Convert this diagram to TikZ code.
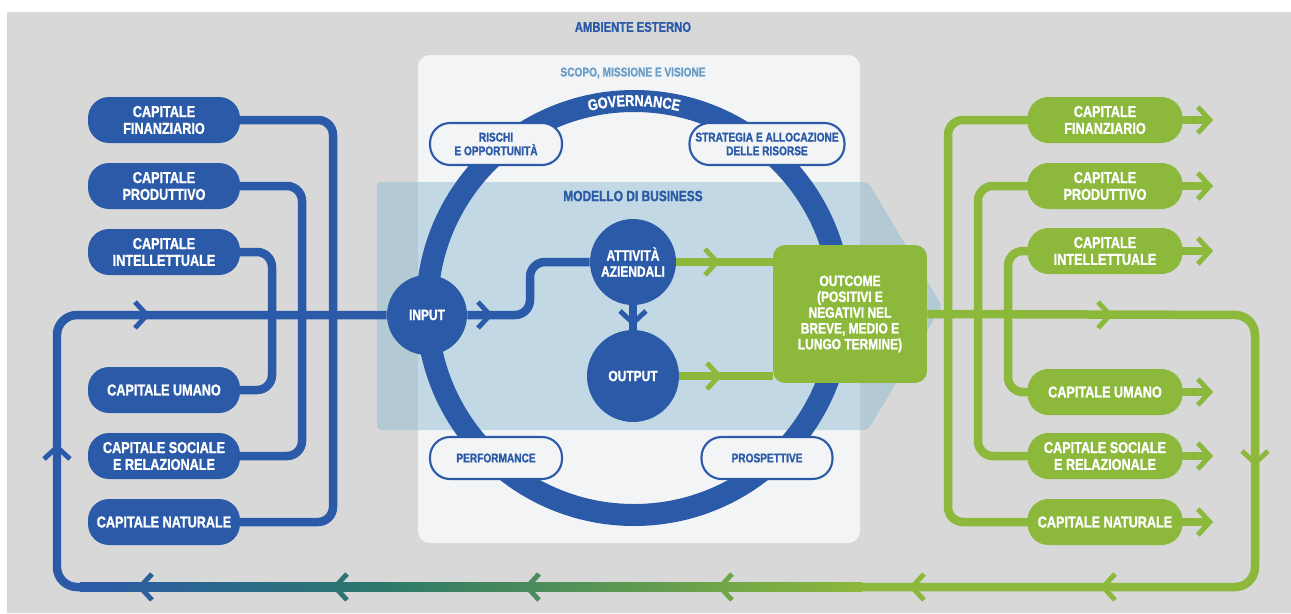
\documentclass[tikz,border=0pt]{standalone}
\usepackage{fontspec}
\setmainfont{Liberation Sans}[FakeStretch=0.8, BoldFeatures={FakeBold=1.2}]
\usetikzlibrary{decorations.text}
\definecolor{irblue}{RGB}{42,90,168}
\definecolor{irgreen}{RGB}{140,184,60}
\definecolor{irteal}{RGB}{45,120,105}
\definecolor{irgrey}{RGB}{216,216,216}
\definecolor{irwhite}{RGB}{243,244,245}
\definecolor{irband}{RGB}{135,184,209}
\definecolor{irsky}{RGB}{105,158,200}
\tikzset
{
    capital/.style  = {rectangle, rounded corners=0.42cm, fill=#1, text=white, minimum width=3.04cm, minimum height=0.92cm, align=center, inner sep=1pt, font=\bfseries\fontsize{9}{9.6}\selectfont},
    ringpill/.style = {rectangle, rounded corners=0.4cm, fill=irwhite, draw=irblue, line width=1.2pt, text=irblue, minimum width=#1, minimum height=0.84cm, align=center, inner sep=1pt, font=\bfseries\fontsize{7.2}{7.8}\selectfont},
    stage/.style    = {circle, fill=irblue, text=white, minimum size=#1, align=center, inner sep=0pt, font=\bfseries\fontsize{8.5}{9.2}\selectfont},
    heading/.style  = {text=#1, font=\bfseries\fontsize{8}{9}\selectfont},
    flow/.style     = {line width=0.17cm, #1},
    chev/.pic       = {\draw[line width=2.8pt, line join=miter] (-12,13) -- (0,0) -- (-12,-13);}
}

\begin{document}
\begin{tikzpicture}[x=0.02cm, y=0.02cm]
	 \newcommand\LEFTX{164}
	 \newcommand\RIGHTX{1105}

   \useasboundingbox (0,0) rectangle (1291,-613);
   \fill[white]  (0,0) rectangle (1291,-613);
   \fill[irgrey] (7,-12) rectangle (1291,-613);

   % scope box and business model band
   \fill[irwhite, rounded corners=0.24cm] (418,-55) rectangle (860,-543);
   \fill[irband, opacity=0.45, rounded corners=0.08cm] (377,-182) -- (868,-182) -- (942,-306) -- (868,-430) -- (377,-430) -- cycle;

   \node (amb)     [heading=irblue]                                  at (633,-27)  {AMBIENTE ESTERNO};
   \node (scopo)   [heading=irsky, font=\bfseries\fontsize{7.2}{8}\selectfont] at (633,-73) {SCOPO, MISSIONE E VISIONE};
   \node (modello) [heading=irblue, font=\bfseries\fontsize{8.5}{9}\selectfont] at (633,-196) {MODELLO DI BUSINESS};

   % governance ring
   \draw[irblue, line width=0.44cm] (634,-308) circle[radius=207];
   \path[decorate, decoration={text along path, text align=center,
         text={|\color{white}\bfseries\fontsize{9}{10}\selectfont|GOVERNANCE}}]
         (634,-308) ++(125:202) arc[start angle=125, end angle=55, radius=202];

   \node (rischi)  [ringpill=2.64cm]  at (496,-144)  {RISCHI\\E OPPORTUNITÀ};
   \node (strat)   [ringpill=3.1cm]   at (767,-144)  {STRATEGIA E ALLOCAZIONE\\DELLE RISORSE};
   \node (perf)    [ringpill=2.64cm]  at (496,-458)  {PERFORMANCE};
   \node (prosp)   [ringpill=2.62cm]  at (767,-458)  {PROSPETTIVE};

   % stages of the business model
   \node (input)   [stage=1.6cm]      at (427,-315)  {INPUT};
   \node (att)     [stage=1.72cm]     at (633,-262)  {ATTIVITÀ\\AZIENDALI};
   \node (out)     [stage=1.84cm]     at (633,-376)  {OUTPUT};
   \node (outcome) [rectangle, rounded corners=0.24cm, fill=irgreen, text=white, minimum width=3.08cm, minimum height=2.76cm,
                    align=center, font=\bfseries\fontsize{8.5}{9}\selectfont] at (850,-314)
                   {OUTCOME\\(POSITIVI E\\NEGATIVI NEL\\BREVE, MEDIO E\\LUNGO TERMINE)};

   % capitals in
   \node (lfin)    [capital=irblue]   at (\LEFTX,-120)  {CAPITALE\\FINANZIARIO};
   \node (lpro)    [capital=irblue]   at (\LEFTX,-186)  {CAPITALE\\PRODUTTIVO};
   \node (lint)    [capital=irblue]   at (\LEFTX,-252)  {CAPITALE\\INTELLETTUALE};
   \node (luma)    [capital=irblue]   at (\LEFTX,-390)  {CAPITALE UMANO};
   \node (lsoc)    [capital=irblue]   at (\LEFTX,-456)  {CAPITALE SOCIALE\\E RELAZIONALE};
   \node (lnat)    [capital=irblue]   at (\LEFTX,-522)  {CAPITALE NATURALE};

   % capitals out
   \node (gfin)    [capital=irgreen, minimum width=3.1cm] at (\RIGHTX,-120)  {CAPITALE\\FINANZIARIO};
   \node (gpro)    [capital=irgreen, minimum width=3.1cm] at (\RIGHTX,-186)  {CAPITALE\\PRODUTTIVO};
   \node (gint)    [capital=irgreen, minimum width=3.1cm] at (\RIGHTX,-251)  {CAPITALE\\INTELLETTUALE};
   \node (guma)    [capital=irgreen, minimum width=3.1cm] at (\RIGHTX,-392)  {CAPITALE UMANO};
   \node (gsoc)    [capital=irgreen, minimum width=3.1cm] at (\RIGHTX,-456)  {CAPITALE SOCIALE\\E RELAZIONALE};
   \node (gnat)    [capital=irgreen, minimum width=3.1cm] at (\RIGHTX,-522)  {CAPITALE NATURALE};

   % left side
   \draw[flow=irblue, rounded corners=0.3cm, shorten <=-4pt, shorten >=-4pt] (lfin.east) -| (333,-300) |- (lnat.east);
   \draw[flow=irblue, rounded corners=0.3cm, shorten <=-4pt, shorten >=-4pt] (lpro.east) -| (302,-300) |- (lsoc.east);
   \draw[flow=irblue, rounded corners=0.3cm, shorten <=-4pt, shorten >=-4pt] (lint.east) -| (272,-300) |- (luma.east);
   \draw[flow=irblue, rounded corners=0.4cm] (input.west) -- (57,-315) -- (57,-587) -- (82,-587);

   % right side
   \draw[flow=irgreen, rounded corners=0.3cm, shorten <=-4pt, shorten >=-4pt] (gfin.west) -| (948,-300) |- (gnat.west);
   \draw[flow=irgreen, rounded corners=0.3cm, shorten <=-4pt, shorten >=-4pt] (gpro.west) -| (978,-300) |- (gsoc.west);
   \draw[flow=irgreen, rounded corners=0.3cm, shorten <=-4pt, shorten >=-4pt] (gint.west) -| (1008,-300) |- (guma.west);
   \draw[flow=irgreen, rounded corners=0.4cm] (outcome.east) -- (1255,-315) -- (1255,-587) -- (860,-587);
   \foreach \g in {gfin, gpro, gint, guma, gsoc, gnat}
   {
      \draw[flow=irgreen, shorten <=-4pt] (\g.east) -- ++(25,0) coordinate (\g-tip);
      \pic[irgreen] at ([xshift=0.04cm]\g-tip) {chev};
   }

   % return line
   \fill[left color=irblue, right color=irteal]  (80,-582.75)  rectangle (382,-591.25);
   \fill[left color=irteal, right color=irgreen] (380,-582.75) rectangle (862,-591.25);

   % inside the business model
   \draw[flow=irblue, rounded corners=0.3cm] (input.east) -- (530,-315) |- (att.west);
   \draw[flow=irblue]  (att.south) -- (out.north);
   \draw[flow=irgreen] (att.east)  -- (att -| outcome.west);
   \draw[flow=irgreen] (out.east)  -- (out -| outcome.west);

   % chevrons
   \pic[irblue]             at (147,-315)  {chev};
   \pic[irblue, rotate=90]  at (57,-447)   {chev};
   \pic[irblue]             at (490,-315)  {chev};
   \pic[irblue, rotate=-90] at (633,-323)  {chev};
   \pic[irgreen]            at (717,-262)  {chev};
   \pic[irgreen]            at (719,-376)  {chev};
   \pic[irgreen]            at (1110,-315) {chev};
   \pic[irgreen, rotate=-90] at (1255,-463) {chev};
   \foreach \x/\c in {140/irteal!20!irblue, 335/irteal!85!irblue, 527/irgreen!31!irteal, 720/irgreen!71!irteal, 912/irgreen, 1103/irgreen}
      \pic[\c, rotate=180] at (\x,-587) {chev};
\end{tikzpicture}
\end{document}
